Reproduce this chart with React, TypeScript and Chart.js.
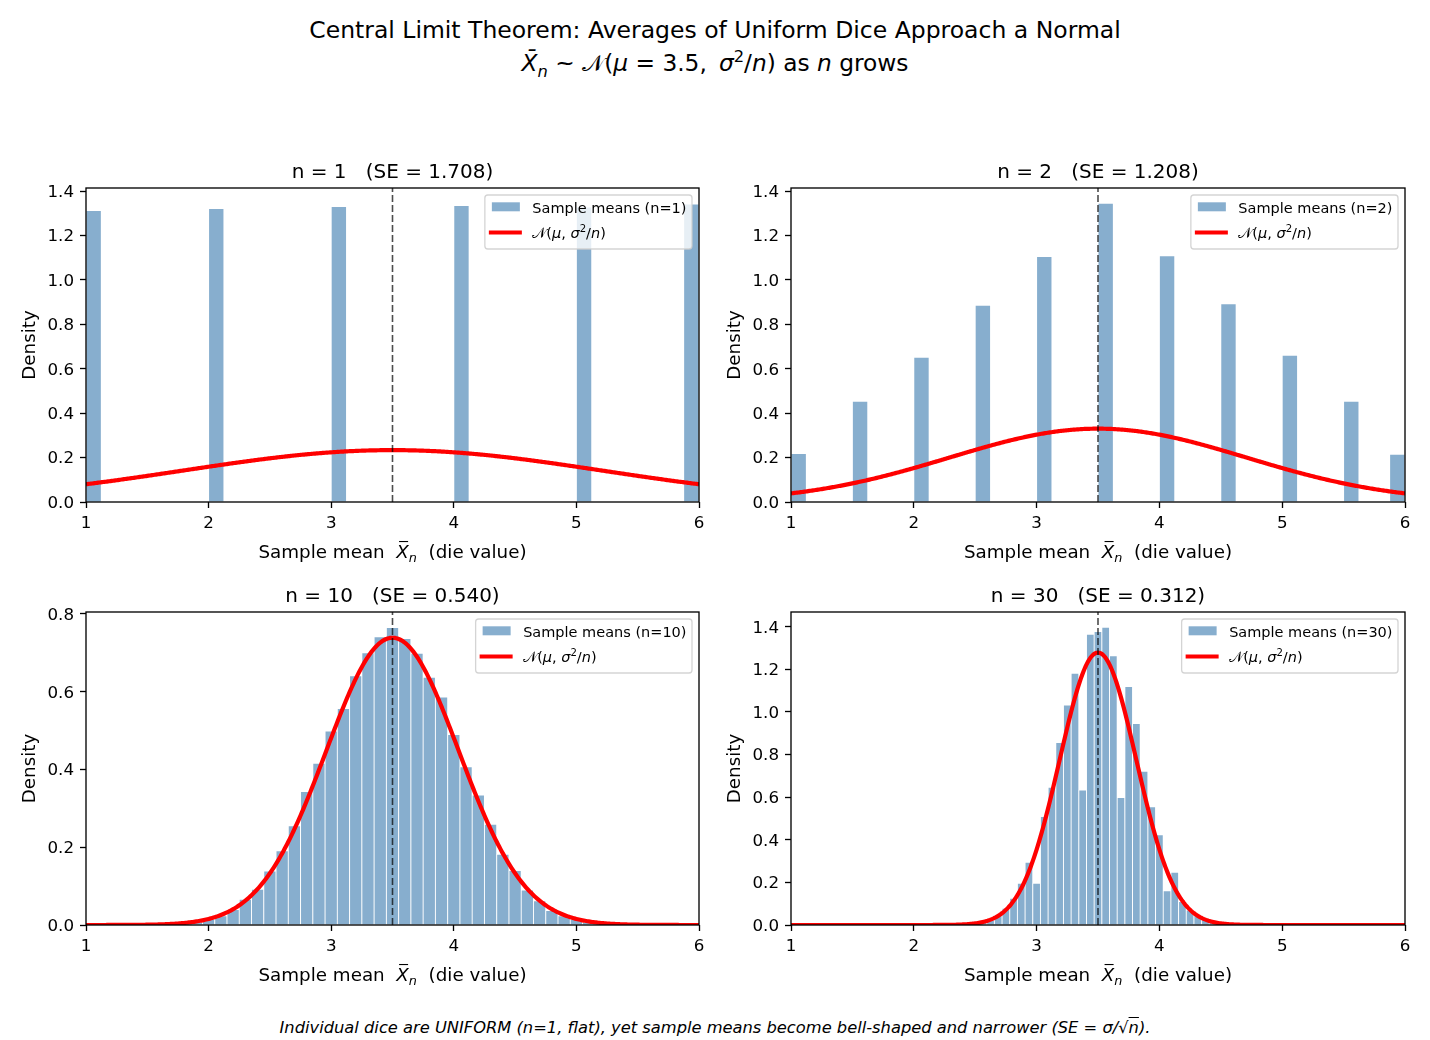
import { useEffect, useRef } from "react";
import { Chart, registerables } from "chart.js";

Chart.register(...registerables);

const FONT = "'DejaVu Sans', sans-serif";

// ---- data -------------------------------------------------------------
const POPULATION_MEAN = 3.5;
const SAMPLE_SIZES = [1, 2, 10, 30];
const STANDARD_ERRORS = [1.708, 1.208, 0.54, 0.312];

const X_TICKS = [1, 2, 3, 4, 5, 6];
const Y_TICKS_WIDE = [0, 0.2, 0.4, 0.6, 0.8, 1.0, 1.2, 1.4];
const Y_TICKS_N10 = [0, 0.2, 0.4, 0.6, 0.8];
const Y_LIMITS = [1.414, 1.414, 0.805, 1.469];

// histogram bins: left edge of the first bin and bin width for each panel
const BIN_FIRST_EDGE = [1, 1, 0.95, 0.96875];
const BIN_WIDTH = [0.125, 0.125, 0.1, 0.0625];

// density of each bin
const DENSITY_N1 = [
  1.312, 0, 0, 0, 0, 0, 0, 0,
  1.321, 0, 0, 0, 0, 0, 0, 0,
  1.330, 0, 0, 0, 0, 0, 0, 0,
  1.335, 0, 0, 0, 0, 0, 0, 0,
  1.328, 0, 0, 0, 0, 0, 0, 1.342,
];

const DENSITY_N2 = [
  0.218, 0, 0, 0, 0.454, 0, 0, 0, 0.652, 0, 0, 0,
  0.886, 0, 0, 0, 1.105, 0, 0, 0, 1.345, 0, 0, 0,
  1.109, 0, 0, 0, 0.893, 0, 0, 0, 0.661, 0, 0, 0,
  0.454, 0, 0, 0.215,
];

const DENSITY_N10 = [
  0, 0, 0, 0, 0, 0, 0,
  0.002, 0.004, 0.008, 0.015, 0.024, 0.040, 0.066, 0.092, 0.139, 0.191,
  0.255, 0.343, 0.416, 0.499, 0.557, 0.641, 0.700, 0.741, 0.765, 0.737,
  0.699, 0.637, 0.586, 0.490, 0.407, 0.334, 0.259, 0.182, 0.140, 0.090,
  0.062, 0.037, 0.024, 0.015, 0.007, 0.004, 0.002,
  0, 0, 0, 0, 0, 0, 0,
];

const DENSITY_N30 = [
  0, 0, 0, 0, 0, 0, 0, 0, 0, 0, 0, 0, 0, 0, 0, 0, 0, 0, 0, 0, 0, 0, 0,
  0.003, 0.006, 0.012, 0.023, 0.047, 0.078, 0.125, 0.196, 0.294, 0.196,
  0.509, 0.646, 0.856, 1.032, 1.181, 0.634, 1.365, 1.377, 1.397, 1.264,
  0.598, 1.119, 0.946, 0.722, 0.555, 0.423, 0.161, 0.247, 0.110, 0.070,
  0.047, 0.028, 0.015, 0.008, 0.004,
  0, 0, 0, 0, 0, 0, 0, 0, 0, 0, 0, 0, 0, 0, 0, 0, 0, 0, 0, 0, 0, 0, 0,
];

const DENSITIES = [DENSITY_N1, DENSITY_N2, DENSITY_N10, DENSITY_N30];
const Y_TICKS = [Y_TICKS_WIDE, Y_TICKS_WIDE, Y_TICKS_N10, Y_TICKS_WIDE];

// ---- layout -----------------------------------------------------------
const AXES_BOXES = [
  { left: 86, top: 188, right: 699, bottom: 502 },
  { left: 791, top: 188, right: 1405, bottom: 502 },
  { left: 86, top: 612, right: 699, bottom: 925 },
  { left: 791, top: 612, right: 1405, bottom: 925 },
];
const MARGIN_LEFT = 86;
const MARGIN_TOP = 60;
const MARGIN_RIGHT = 20;
const MARGIN_BOTTOM = 75;

const BAR_COLOR = "rgba(70,130,180,0.65)";
const CURVE_COLOR = "#ff0000";

// ---- rich text on canvas ---------------------------------------------
type Run = { t: string; it?: boolean; sc?: number; dy?: number; macron?: boolean };

function runFont(r: Run, size: number) {
  return `${r.it ? "italic " : ""}${(size * (r.sc ?? 1)).toFixed(2)}px ${FONT}`;
}

function measureRuns(ctx: CanvasRenderingContext2D, runs: Run[], size: number) {
  return runs.map((r) => {
    ctx.font = runFont(r, size);
    return ctx.measureText(r.t).width;
  });
}

function drawRuns(
  ctx: CanvasRenderingContext2D,
  runs: Run[],
  x: number,
  y: number,
  size: number,
  align: "center" | "left"
) {
  const widths = measureRuns(ctx, runs, size);
  const total = widths.reduce((a, b) => a + b, 0);
  let cx = align === "center" ? x - total / 2 : x;
  ctx.textAlign = "left";
  ctx.textBaseline = "alphabetic";
  ctx.fillStyle = "#000";
  runs.forEach((r, i) => {
    ctx.font = runFont(r, size);
    const by = y + (r.dy ?? 0) * size;
    ctx.fillText(r.t, cx, by);
    if (r.macron) {
      const w = widths[i];
      ctx.fillRect(cx + w * 0.22, by - size * 0.93, w * 0.72, Math.max(1, size * 0.06));
    }
    cx += widths[i];
  });
}

const X_LABEL_RUNS: Run[] = [
  { t: "Sample mean  " },
  { t: "X", it: true, macron: true },
  { t: "n", it: true, sc: 0.7, dy: 0.22 },
  { t: "  (die value)" },
];

const NORMAL_LABEL_RUNS: Run[] = [
  { t: "\u{1D4A9}" },
  { t: "(" },
  { t: "\u03BC", it: true },
  { t: ", " },
  { t: "\u03C3", it: true },
  { t: "2", sc: 0.7, dy: -0.38 },
  { t: "/" },
  { t: "n", it: true },
  { t: ")" },
];

function normalPdf(x: number, mu: number, sd: number) {
  const z = (x - mu) / sd;
  return Math.exp(-0.5 * z * z) / (sd * Math.sqrt(2 * Math.PI));
}

function buildConfig(index: number): any {
  const n = SAMPLE_SIZES[index];
  const se = STANDARD_ERRORS[index];
  const yMax = Y_LIMITS[index];
  const density = DENSITIES[index];
  const first = BIN_FIRST_EDGE[index];
  const width = BIN_WIDTH[index];

  const bars = density.map((d, i) => ({ x: first + (i + 0.5) * width, y: d }));

  const curve: { x: number; y: number }[] = [];
  const steps = 500;
  for (let i = 0; i <= steps; i++) {
    const x = X_TICKS[0] + ((X_TICKS[X_TICKS.length - 1] - X_TICKS[0]) * i) / steps;
    curve.push({ x, y: normalPdf(x, POPULATION_MEAN, se) });
  }

  const barLabel = `Sample means (n=${n})`;

  const decor = {
    id: "panelDecor",
    afterDraw(chart: any) {
      const { ctx, chartArea: a } = chart;
      ctx.save();

      // legend
      const legendSize = 14.5;
      ctx.font = runFont({ t: barLabel }, legendSize);
      const w1 = ctx.measureText(barLabel).width;
      const w2 = measureRuns(ctx, NORMAL_LABEL_RUNS, legendSize).reduce((s: number, v: number) => s + v, 0);
      const bw = 47.5 + Math.max(w1, w2) + 5.5;
      const bh = 54;
      const bx = a.right - 7 - bw;
      const by = a.top + 7;
      ctx.beginPath();
      ctx.roundRect(bx, by, bw, bh, 3);
      ctx.fillStyle = "rgba(255,255,255,0.8)";
      ctx.fill();
      ctx.strokeStyle = "rgba(204,204,204,0.85)";
      ctx.lineWidth = 1.3;
      ctx.stroke();
      ctx.fillStyle = BAR_COLOR;
      ctx.fillRect(bx + 7, by + 7.3, 28, 9);
      ctx.strokeStyle = CURVE_COLOR;
      ctx.lineWidth = 4.2;
      ctx.lineCap = "butt";
      ctx.beginPath();
      ctx.moveTo(bx + 4, by + 37.5);
      ctx.lineTo(bx + 37, by + 37.5);
      ctx.stroke();
      drawRuns(ctx, [{ t: barLabel }], bx + 47.5, by + 17.5, legendSize, "left");
      drawRuns(ctx, NORMAL_LABEL_RUNS, bx + 47.5, by + 42.7, legendSize, "left");

      // axes frame
      ctx.strokeStyle = "#000";
      ctx.lineWidth = 1.33;
      ctx.strokeRect(a.left, a.top, a.right - a.left, a.bottom - a.top);

      // panel title and axis labels
      const cx = (a.left + a.right) / 2;
      drawRuns(ctx, [{ t: `n = ${n}   (SE = ${se.toFixed(3)})` }], cx, a.top - 10, 20, "center");
      drawRuns(ctx, X_LABEL_RUNS, cx, a.bottom + 56, 18.3, "center");
      ctx.translate(35, (a.top + a.bottom) / 2);
      ctx.rotate(-Math.PI / 2);
      drawRuns(ctx, [{ t: "Density" }], 0, 0, 18.3, "center");
      ctx.restore();
    },
  };

  const tickFont = { family: FONT, size: 16.7 };

  return {
    type: "bar",
    data: {
      datasets: [
        {
          type: "line",
          label: "mean",
          data: [
            { x: POPULATION_MEAN, y: 0 },
            { x: POPULATION_MEAN, y: yMax },
          ],
          borderColor: "rgba(0,0,0,0.7)",
          borderWidth: 1.6,
          borderDash: [7, 3],
          pointRadius: 0,
          fill: false,
          order: 0,
        },
        {
          type: "line",
          label: "normal",
          data: curve,
          borderColor: CURVE_COLOR,
          borderWidth: 4.2,
          pointRadius: 0,
          tension: 0,
          fill: false,
          order: 1,
        },
        {
          type: "bar",
          label: barLabel,
          data: bars,
          backgroundColor: BAR_COLOR,
          borderColor: "#ffffff",
          borderWidth: 0.8,
          categoryPercentage: 1,
          barPercentage: 1,
          order: 2,
        },
      ],
    },
    options: {
      animation: false,
      responsive: false,
      devicePixelRatio: 1,
      events: [],
      layout: {
        autoPadding: false,
        padding: { left: 0, top: MARGIN_TOP, right: MARGIN_RIGHT, bottom: 0 },
      },
      plugins: {
        legend: { display: false },
        title: { display: false },
        tooltip: { enabled: false },
      },
      scales: {
        x: {
          type: "linear",
          min: X_TICKS[0],
          max: X_TICKS[X_TICKS.length - 1],
          offset: false,
          border: { display: false },
          grid: {
            offset: false,
            drawOnChartArea: false,
            drawTicks: true,
            tickLength: 6,
            tickWidth: 1.33,
            tickColor: "#000",
          },
          ticks: {
            color: "#000",
            font: tickFont,
            padding: 5.5,
            maxRotation: 0,
            autoSkip: false,
            includeBounds: false,
            callback: (v: number) => String(v),
          },
          afterBuildTicks: (s: any) => {
            s.ticks = X_TICKS.map((v) => ({ value: v }));
          },
          afterFit: (s: any) => {
            s.height = MARGIN_BOTTOM;
            s.paddingLeft = 0;
            s.paddingRight = 0;
          },
        },
        y: {
          type: "linear",
          min: 0,
          max: yMax,
          border: { display: false },
          grid: {
            offset: false,
            drawOnChartArea: false,
            drawTicks: true,
            tickLength: 6,
            tickWidth: 1.33,
            tickColor: "#000",
          },
          ticks: {
            color: "#000",
            font: tickFont,
            padding: 6,
            labelOffset: 1.5,
            autoSkip: false,
            includeBounds: false,
            callback: (v: number) => v.toFixed(1),
          },
          afterBuildTicks: (s: any) => {
            s.ticks = Y_TICKS[index].map((v) => ({ value: v }));
          },
          afterFit: (s: any) => {
            s.width = MARGIN_LEFT;
            s.paddingTop = 0;
            s.paddingBottom = 0;
          },
        },
      },
    },
    plugins: [decor],
  };
}

function HistogramPanel({ index }: { index: number }) {
  const canvasRef = useRef<HTMLCanvasElement | null>(null);
  const box = AXES_BOXES[index];
  const width = MARGIN_LEFT + (box.right - box.left) + MARGIN_RIGHT;
  const height = MARGIN_TOP + (box.bottom - box.top) + MARGIN_BOTTOM;

  useEffect(() => {
    const canvas = canvasRef.current;
    if (!canvas) return;
    const chart = new Chart(canvas, buildConfig(index));
    return () => chart.destroy();
  }, [index]);

  return (
    <canvas
      ref={canvasRef}
      width={width}
      height={height}
      style={{
        position: "absolute",
        left: box.left - MARGIN_LEFT,
        top: box.top - MARGIN_TOP,
        width,
        height,
      }}
    />
  );
}

const it = { fontStyle: "italic" as const };

function lineStyle(baseline: number, size: number, italic = false) {
  return {
    position: "absolute" as const,
    left: 0,
    width: 1430,
    top: baseline - 0.846 * size,
    fontSize: size,
    lineHeight: `${size}px`,
    textAlign: "center" as const,
    whiteSpace: "pre" as const,
    fontFamily: FONT,
    fontStyle: italic ? ("italic" as const) : ("normal" as const),
    color: "#000",
  };
}

export default function App() {
  return (
    <div
      style={{
        position: "absolute",
        left: 0,
        top: 0,
        width: 1430,
        height: 1040,
        background: "#fff",
        overflow: "hidden",
      }}
    >
      <div style={lineStyle(38.5, 23.5)}>
        Central Limit Theorem: Averages of Uniform Dice Approach a Normal
      </div>
      <div style={lineStyle(71, 23.3)}>
        <span style={it}>X{"\u0304"}</span>
        <span style={{ ...it, fontSize: "0.7em", position: "relative", top: "0.32em" }}>n</span>
        {" ~ "}
        <span>{"\u{1D4A9}"}</span>(<span style={it}>{"\u03BC"}</span> = 3.5,{" \u2009"}
        <span style={it}>{"\u03C3"}</span>
        <span style={{ fontSize: "0.7em", position: "relative", top: "-0.55em" }}>2</span>/
        <span style={it}>n</span>) as <span style={it}>n</span> grows
      </div>
      {AXES_BOXES.map((_, i) => (
        <HistogramPanel key={i} index={i} />
      ))}
      <div style={lineStyle(1034, 16.3, true)}>
        Individual dice are UNIFORM (n=1, flat), yet sample means become bell-shaped and narrower (SE = {"\u03C3"}/{"\u221A"}
        <span style={{ textDecoration: "overline" }}>n</span>).
      </div>
    </div>
  );
}
